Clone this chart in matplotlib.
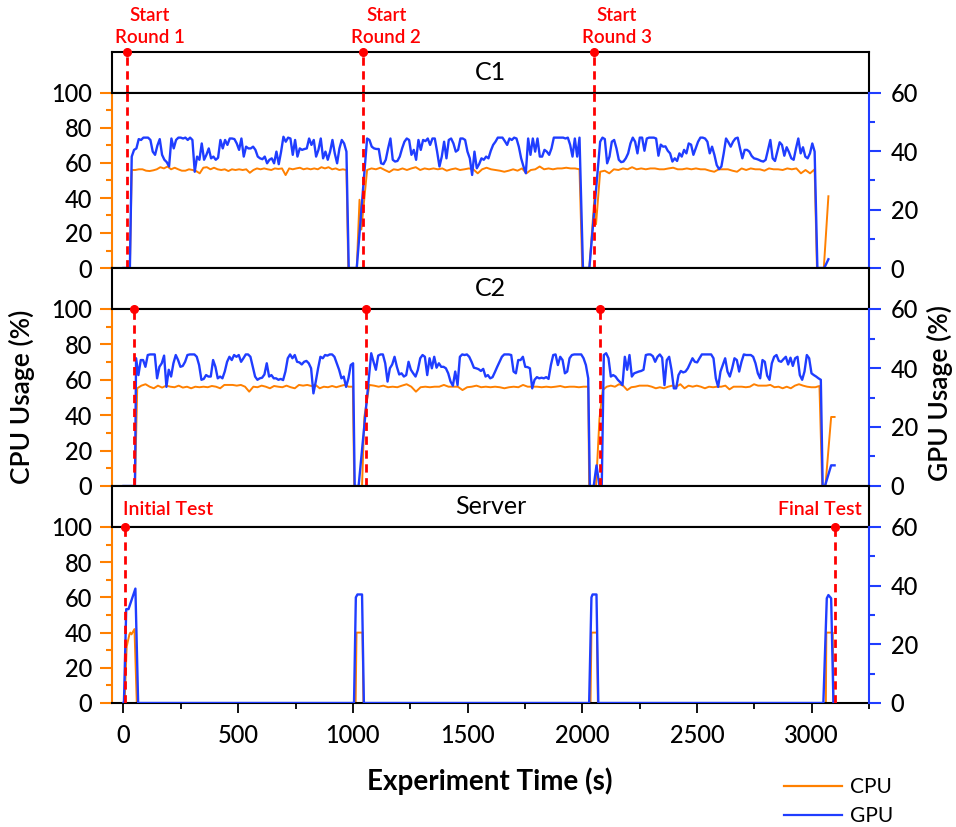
import matplotlib
matplotlib.use("Agg")
import matplotlib.pyplot as plt
import matplotlib.transforms as mtransforms
from matplotlib.lines import Line2D
from matplotlib.ticker import MultipleLocator
import numpy as np

plt.rcParams["font.family"] = ["Lato", "DejaVu Sans"]

CPU_COLOR = "#ff8000"
GPU_COLOR = "#1f3dff"
RED = "#ff0000"

# ---------------- data ----------------
# C1 client: one list per round, sampled evenly between the span times
c1_gpu_spans = [(36, 972), (1062, 1988), (2078, 3013)]
c1_gpu_r1 = [38.2, 40.5, 41.0, 44.2, 43.9, 44.7, 44.7, 44.7, 43.9, 39.9, 38.8, 42.0, 44.2, 38.8, 37.1, 36.3,
             34.8, 44.4, 41.0, 43.9, 44.7, 44.7, 44.4, 44.7, 43.9, 44.7, 43.9, 33.0, 38.2, 37.1, 42.7, 37.1,
             38.8, 41.0, 37.6, 38.2, 37.1, 37.8, 43.9, 41.0, 43.9, 42.2, 44.4, 44.4, 44.2, 42.7, 40.5, 44.4,
             38.2, 41.6, 41.0, 41.0, 41.6, 40.5, 38.2, 37.6, 37.3, 38.2, 35.9, 37.1, 37.6, 35.9, 39.9, 35.6,
             39.9, 45.0, 43.3, 44.7, 44.4, 38.8, 43.9, 38.2, 41.0, 40.5, 40.8, 41.0, 44.4, 42.2, 43.9, 38.2,
             40.5, 44.4, 37.6, 39.9, 37.1, 39.9, 43.9, 39.3, 35.9, 41.0, 43.9, 42.7, 39.9]
c1_gpu_r2 = [44.4, 43.9, 41.6, 41.0, 40.8, 40.8, 35.9, 35.6, 37.1, 41.0, 44.4, 37.1, 36.5, 36.7, 38.2, 41.0,
             43.3, 44.4, 43.9, 38.8, 40.5, 37.1, 43.9, 40.5, 43.9, 43.5, 44.4, 42.2, 44.4, 44.4, 39.9, 34.8,
             38.2, 43.3, 37.6, 43.9, 44.4, 42.7, 39.9, 40.5, 44.4, 44.4, 43.9, 39.9, 37.6, 31.9, 39.9, 34.2,
             35.6, 37.6, 37.1, 38.2, 37.6, 40.2, 42.2, 43.3, 44.7, 44.7, 44.7, 43.5, 42.2, 44.4, 43.9, 44.7,
             44.4, 41.6, 37.6, 34.8, 32.5, 44.4, 38.8, 44.4, 39.9, 44.4, 38.2, 38.2, 40.5, 39.9, 38.8, 41.0,
             44.7, 44.7, 44.7, 44.7, 44.7, 44.4, 44.7, 42.2, 38.2, 44.4, 38.2, 44.7]
c1_gpu_r3 = [43.3, 44.7, 44.2, 35.9, 38.2, 43.3, 43.9, 41.0, 37.1, 36.3, 36.5, 37.6, 39.3, 42.7, 44.7, 43.3,
             39.3, 44.7, 44.7, 40.2, 44.4, 44.7, 44.7, 44.7, 44.4, 38.5, 42.3, 41.6, 41.7, 40.2, 39.3, 36.5,
             37.6, 36.7, 39.3, 38.2, 40.5, 39.3, 42.7, 42.3, 38.8, 41.0, 43.3, 44.7, 44.7, 44.4, 43.3, 39.3,
             41.6, 38.8, 35.3, 33.9, 34.8, 39.3, 44.4, 43.1, 41.6, 43.3, 44.4, 44.7, 41.0, 37.6, 40.5, 40.5,
             39.9, 38.4, 37.6, 37.4, 37.1, 36.7, 36.5, 37.1, 40.5, 43.9, 37.6, 36.7, 39.9, 43.1, 42.2, 38.5,
             41.4, 39.7, 37.6, 37.1, 41.0, 44.4, 39.3, 41.4, 38.2, 37.6, 39.3, 42.7, 39.9]
c1_gpu_idle_t = [0, 28, 982, 1017, 2003, 2031, 3025, 3055, 3073]
c1_gpu_idle_v = [0, 0, 0, 0, 0, 0, 0, 0, 3]

c1_cpu_spans = [(36, 972), (1062, 1988), (2078, 3013)]
c1_cpu_r1 = [56, 56, 56.4, 56.4, 55.6, 55.4, 55.8, 56.4, 57.6, 56.9, 58, 56.4, 57.3, 56.4, 55.6, 55.6, 56.4,
             56, 55.4, 54.1, 57.3, 57.6, 56.4, 57.3, 56.4, 56, 56.4, 55.4, 56.4, 56, 56.4, 56, 56.4, 54.4,
             56, 56.9, 56.4, 56.9, 56.4, 56, 56.9, 56.6, 56.9, 53.1, 56.9, 56.4, 56.9, 57.3, 56.4, 56.9,
             56.4, 56.9, 56.4, 57.6, 56.9, 57.6, 56.4, 56.9, 56, 56.4, 56]
c1_cpu_r2 = [56, 56.9, 56.4, 57.3, 56, 54.8, 56.4, 56, 56.9, 56, 56.9, 57.6, 56, 56.9, 56.4, 56.9, 56.4,
             56.9, 55.6, 56.4, 56.9, 56, 56.4, 56.9, 56.4, 54.1, 56.4, 57.3, 56.4, 56, 55.6, 55, 55.6, 56.4,
             55.6, 56.9, 54.1, 56, 56.4, 58, 56.4, 56.9, 56.4, 56.9, 56.9, 57.3, 56.9, 56.9, 56.4]
c1_cpu_r3 = [55, 55.6, 54.1, 56.4, 56, 56.9, 56.4, 57.6, 56.4, 56.9, 56.4, 56.9, 56.9, 56.4, 56.4, 56.9,
             57.3, 56.4, 56.4, 56.9, 56.4, 56.9, 56.4, 56.4, 55.6, 55, 56.4, 56.4, 56.4, 55.6, 55, 56.9, 56,
             56.9, 56.4, 56.4, 55.6, 56.9, 56.4, 56.4, 56, 56.9, 56.4, 56.9, 54.1, 56, 54.1, 56.4]
c1_cpu_idle_t = [0, 28, 980, 1017, 1029, 1037, 2000, 2031, 2053, 2060, 3023, 3053, 3073]
c1_cpu_idle_v = [0, 0, 0, 0, 39, 22, 0, 0, 40, 25, 0, 0, 41]

# C2 client
c2_gpu_spans = [(55, 1001), (1080, 2026), (2094, 3040)]
c2_gpu_r1 = [43.3, 37.6, 42.7, 42.7, 40.4, 44.4, 44.6, 44.6, 44.6, 36.5, 40.4, 41.6, 44.2, 33.6, 39.4, 37.1,
             41.6, 44.4, 42.7, 40.4, 40.7, 42.1, 44.4, 44.6, 44.6, 44.6, 43.8, 41.0, 36.0, 36.3, 37.6, 37.1,
             37.1, 42.7, 40.4, 36.5, 37.1, 36.5, 38.8, 42.1, 43.8, 42.7, 44.4, 43.8, 44.4, 42.1, 43.3, 44.6,
             44.6, 43.8, 40.4, 37.1, 36.0, 36.5, 36.7, 37.8, 41.6, 37.1, 37.6, 36.5, 36.5, 36.0, 36.3, 35.9,
             38.8, 43.3, 44.6, 43.3, 44.4, 42.1, 41.9, 41.2, 42.1, 42.4, 41.6, 39.9, 31.4, 35.4, 39.9, 43.8,
             43.3, 44.4, 44.2, 44.6, 44.6, 43.8, 41.6, 39.4, 36.5, 37.1, 33.6, 36.5, 41.0, 41.6]
c2_gpu_r2 = [45.0, 42.1, 39.4, 44.2, 44.6, 44.6, 41.6, 35.4, 39.9, 41.2, 43.8, 40.4, 37.8, 38.2, 37.1, 37.6,
             42.1, 39.4, 38.2, 37.1, 39.4, 43.3, 44.4, 43.8, 37.6, 43.3, 39.9, 43.8, 40.1, 41.6, 40.4, 40.4,
             39.9, 38.2, 35.4, 34.0, 38.8, 34.2, 43.8, 44.6, 44.4, 44.6, 43.8, 42.1, 40.1, 39.9, 39.6, 39.0,
             39.7, 37.1, 37.6, 36.5, 36.9, 38.6, 40.4, 42.1, 43.8, 44.6, 44.6, 44.6, 44.4, 38.8, 38.2, 42.7,
             42.7, 43.8, 40.4, 40.3, 39.9, 33.1, 36.0, 36.9, 36.5, 36.7, 36.5, 36.9, 36.3, 41.0, 44.4, 44.6,
             41.0, 43.8, 42.7, 38.2, 38.8, 43.3, 44.4, 44.6, 44.6, 44.6, 44.6, 43.3, 41.0, 36.5]
c2_gpu_r3 = [44.4, 45.0, 43.3, 37.1, 37.6, 37.1, 36.0, 35.2, 34.2, 43.8, 39.4, 44.4, 37.1, 38.2, 38.5, 38.8,
             39.0, 39.4, 44.4, 44.6, 44.6, 44.0, 42.1, 43.8, 44.6, 43.5, 34.2, 42.7, 43.8, 39.4, 33.1, 33.1,
             37.6, 39.0, 38.5, 38.8, 39.9, 41.6, 43.3, 42.1, 41.9, 43.3, 44.6, 44.6, 44.6, 44.6, 44.6, 43.3,
             36.5, 33.6, 38.8, 41.0, 43.3, 38.8, 37.1, 39.9, 43.3, 42.7, 38.8, 42.1, 44.6, 44.4, 44.4, 44.4,
             43.8, 41.6, 38.2, 36.5, 42.7, 42.1, 37.4, 36.0, 41.6, 43.8, 44.4, 42.4, 42.1, 43.0, 43.8, 41.2,
             43.5, 40.7, 43.3, 43.8, 37.6, 36.0, 38.8, 44.4, 43.3, 38.2, 37.6, 37.1, 36.5, 36.0]
c2_gpu_idle_t = [0, 50, 1008, 1025, 2033, 2050, 2062, 2075, 2085, 3048, 3058, 3085, 3100]
c2_gpu_idle_v = [0, 0, 0, 0, 0, 0, 7, 0, 0, 0, 0, 7, 7]

c2_cpu_spans = [(60, 1000), (1072, 2026), (2089, 3034)]
c2_cpu_r1 = [55.2, 56.7, 57.5, 56.1, 55.2, 56.7, 55.6, 56.7, 56.1, 55.8, 56.7, 55.6, 56.1, 55.2, 56.1, 55.8,
             56.1, 55.8, 56.5, 56.1, 55.2, 57.1, 57.1, 57.1, 56.7, 57.1, 56.1, 53.3, 56.1, 55.8, 56.7, 56.1,
             55.2, 56.5, 56.1, 55.8, 56.7, 55.8, 55.2, 57.1, 56.7, 57.1, 56.5, 57.1, 55.2, 56.1, 55.8, 56.5,
             55.8, 56.5, 57.1, 56.1, 56.1]
c2_cpu_r2 = [57.1, 56.7, 56.1, 56.7, 55.8, 56.1, 55.8, 56.7, 57.5, 56.1, 53.3, 55.8, 56.1, 55.8, 56.1, 56.1,
             57.1, 56.1, 56.1, 56.1, 54.2, 55.8, 56.1, 56.7, 55.8, 56.1, 55.8, 56.1, 55.8, 55.2, 55.8, 56.1,
             55.8, 57.1, 56.1, 56.1, 56.1, 55.8, 56.1, 55.8, 56.1, 56.5, 55.8, 56.1, 56.1, 55.8, 56.1, 56.1]
c2_cpu_r3 = [54.2, 56.1, 56.7, 56.1, 57.5, 56.7, 54.2, 55.8, 56.1, 56.7, 56.7, 56.7, 56.1, 55.2, 55.8, 55.2,
             56.1, 56.7, 56.1, 57.5, 55.2, 56.7, 56.1, 56.7, 56.1, 55.2, 56.1, 55.8, 56.1, 56.1, 56.7, 54.6,
             56.1, 56.1, 56.1, 55.8, 56.1, 57.5, 56.7, 56.7, 56.7, 57.1, 55.8, 56.1, 55.2, 56.1, 55.2, 56.7,
             57.5, 56.7, 56.1, 55.8, 55.8, 56.5]
c2_cpu_idle_t = [0, 50, 1006, 1040, 1050, 2030, 2060, 2075, 3046, 3060, 3085, 3100]
c2_cpu_idle_v = [0, 0, 0, 0, 39, 0, 0, 38, 0, 0, 39, 39]

# Server
server_gpu_t = [0, 2, 12, 22, 52, 64, 1005, 1013, 1020, 1040, 1048, 2030, 2040, 2045, 2062, 2070,
                3051, 3066, 3073, 3085, 3095, 3105]
server_gpu_v = [0, 0, 32, 32, 39, 0, 0, 36, 37, 37, 0, 0, 36, 37, 37, 0, 0, 35.7, 36.8, 35.7, 0, 0]
server_cpu_t = [0, 5, 14, 26, 30, 35, 48, 58, 1012, 1016, 1042, 1046, 2036, 2040, 2064, 2068,
                3062, 3064, 3092, 3095, 3105]
server_cpu_v = [0, 0, 32, 39, 40, 39, 42, 0, 0, 40, 40, 0, 0, 40, 40, 0, 0, 40, 40, 0, 0]

# markers
round_starts_c1 = [16, 1045, 2050]
round_starts_c2 = [45, 1059, 2079]
round_labels = ["Start\nRound 1", "Start\nRound 2", "Start\nRound 3"]
initial_test_t = 6
final_test_t = 3102


def build(spans, rounds, idle_t, idle_v):
    t = list(idle_t)
    v = list(idle_v)
    for (t0, t1), vals in zip(spans, rounds):
        t += list(np.linspace(t0, t1, len(vals)))
        v += list(vals)
    order = np.argsort(t, kind="stable")
    return np.array(t)[order], np.array(v)[order]


c1_gpu = build(c1_gpu_spans, [c1_gpu_r1, c1_gpu_r2, c1_gpu_r3], c1_gpu_idle_t, c1_gpu_idle_v)
c1_cpu = build(c1_cpu_spans, [c1_cpu_r1, c1_cpu_r2, c1_cpu_r3], c1_cpu_idle_t, c1_cpu_idle_v)
c2_gpu = build(c2_gpu_spans, [c2_gpu_r1, c2_gpu_r2, c2_gpu_r3], c2_gpu_idle_t, c2_gpu_idle_v)
c2_cpu = build(c2_cpu_spans, [c2_cpu_r1, c2_cpu_r2, c2_cpu_r3], c2_cpu_idle_t, c2_cpu_idle_v)
server_gpu = (np.array(server_gpu_t), np.array(server_gpu_v))
server_cpu = (np.array(server_cpu_t), np.array(server_cpu_v))

# ---------------- layout ----------------
W, H = 956, 827
XMIN, XMAX = -50, 3250
left, width = 112 / W, 757 / W
# (strip top, strip bottom / plot top, plot bottom) in pixels
rows = [(52, 93, 268), (268, 309, 486), (486, 527, 703)]
titles = ["C1", "C2", "Server"]
panels = [(c1_cpu, c1_gpu), (c2_cpu, c2_gpu), (server_cpu, server_gpu)]

fig = plt.figure(figsize=(W / 100, H / 100), dpi=100)

TICK_SIZE = 17

strips, axes, twins = [], [], []
for i, ((s_top, p_top, p_bot), title, (cpu, gpu)) in enumerate(zip(rows, titles, panels)):
    strip = fig.add_axes([left, 1 - p_top / H, width, (p_top - s_top) / H])
    strip.set_xlim(XMIN, XMAX)
    strip.set_ylim(0, 1)
    strip.set_xticks([])
    strip.set_yticks([])
    for sp in strip.spines.values():
        sp.set_linewidth(1.5)
    strip.text(0.5, 0.5, title, transform=strip.transAxes, ha="center", va="center", fontsize=18)

    ax = fig.add_axes([left, 1 - p_bot / H, width, (p_bot - p_top) / H])
    ax.set_xlim(XMIN, XMAX)
    ax.set_ylim(0, 100)
    ax.plot(cpu[0], cpu[1], color=CPU_COLOR, lw=1.4)
    ax.yaxis.set_major_locator(MultipleLocator(20))
    ax.yaxis.set_minor_locator(MultipleLocator(10))
    ax.tick_params(axis="y", which="both", direction="out", color=CPU_COLOR, width=1.5,
                   labelsize=TICK_SIZE, pad=6)
    ax.tick_params(axis="y", which="major", length=8.5)
    ax.tick_params(axis="y", which="minor", length=4.5)
    ax.spines["left"].set_color(CPU_COLOR)
    ax.spines["right"].set_visible(False)
    for s in ["left", "top", "bottom"]:
        ax.spines[s].set_linewidth(1.5)

    ax2 = ax.twinx()
    ax2.set_ylim(0, 60)
    ax2.plot(gpu[0], gpu[1], color=GPU_COLOR, lw=1.7)
    ax2.yaxis.set_major_locator(MultipleLocator(20))
    ax2.yaxis.set_minor_locator(MultipleLocator(10))
    ax2.tick_params(axis="y", which="both", direction="out", color=GPU_COLOR, width=1.5,
                    labelsize=TICK_SIZE, pad=7)
    ax2.tick_params(axis="y", which="major", length=8.5)
    ax2.tick_params(axis="y", which="minor", length=4.5)
    ax2.spines["right"].set_color(GPU_COLOR)
    ax2.spines["right"].set_linewidth(1.5)
    for s in ["left", "top", "bottom"]:
        ax2.spines[s].set_visible(False)

    if i < 2:
        ax.tick_params(axis="x", which="both", bottom=False, labelbottom=False)
    else:
        ax.xaxis.set_major_locator(MultipleLocator(500))
        ax.xaxis.set_minor_locator(MultipleLocator(250))
        ax.tick_params(axis="x", which="both", direction="out", width=1.3, labelsize=TICK_SIZE, pad=8)
        ax.tick_params(axis="x", which="major", length=7)
        ax.tick_params(axis="x", which="minor", length=4)

    for lbl in ax.get_yticklabels() + ax2.get_yticklabels() + ax.get_xticklabels():
        lbl.set_fontweight("medium")

    strips.append(strip)
    axes.append(ax)
    twins.append(ax2)

dash = dict(color=RED, lw=2, dashes=(3, 2), zorder=10)
dot = dict(color=RED, marker="o", ms=5.5, clip_on=False, zorder=11, ls="none")

# C1 round starts: line through the strip, dot at the strip top, label above
for t, label in zip(round_starts_c1, round_labels):
    strips[0].axvline(t, 0, 1, **dash)
    strips[0].plot([t], [1], **dot)
    twins[0].axvline(t, 0, 1, **dash)
    tr = mtransforms.blended_transform_factory(strips[0].transData, strips[0].transAxes)
    strips[0].annotate(label, xy=(t + 100, 1), xycoords=tr, xytext=(0, 4), textcoords="offset points",
                       ha="center", va="bottom", color=RED, fontsize=13.5, fontweight="semibold",
                       linespacing=1.4, annotation_clip=False)

# C2 round starts
for t in round_starts_c2:
    twins[1].axvline(t, 0, 1, **dash)
    twins[1].plot([t], [60], **dot)

# Server tests
for t in [initial_test_t, final_test_t]:
    twins[2].axvline(t, 0, 1, **dash)
    twins[2].plot([t], [60], **dot)
tr = mtransforms.blended_transform_factory(strips[2].transData, strips[2].transAxes)
strips[2].text(-4, 0.42, "Initial Test", transform=tr, ha="left", va="center", color=RED,
               fontsize=14, fontweight="semibold")
strips[2].text(3217, 0.42, "Final Test", transform=tr, ha="right", va="center", color=RED,
               fontsize=14, fontweight="semibold")

fig.text(22 / W, 1 - 397 / H, "CPU Usage (%)", rotation=90, ha="center", va="center",
         fontsize=19, fontweight="semibold")
fig.text(940 / W, 1 - 393 / H, "GPU Usage (%)", rotation=90, ha="center", va="center",
         fontsize=19, fontweight="semibold")
fig.text(490 / W, 1 - 781 / H, "Experiment Time (s)", ha="center", va="center",
         fontsize=20, fontweight="bold")

handles = [Line2D([], [], color=CPU_COLOR, lw=1.6), Line2D([], [], color=GPU_COLOR, lw=1.6)]
fig.legend(handles, ["CPU", "GPU"], loc="upper left", bbox_to_anchor=(784 / W, 1 - 777 / H),
           frameon=False, fontsize=15, handlelength=2.8, handletextpad=0.35, labelspacing=0.45,
           borderpad=0, borderaxespad=0)

fig.savefig("out.png", dpi=100)
